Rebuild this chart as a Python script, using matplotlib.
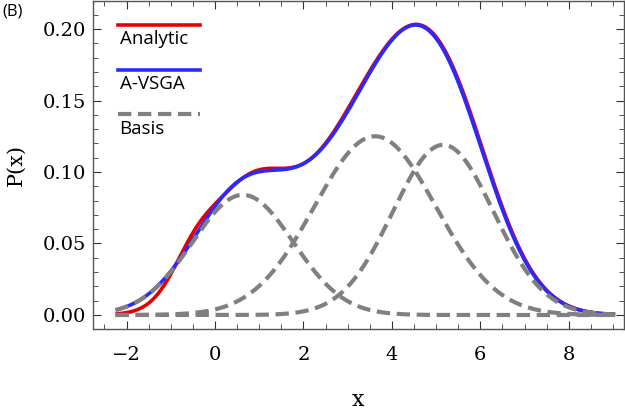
import matplotlib
matplotlib.use("Agg")
import matplotlib.pyplot as plt
import numpy as np
from matplotlib.ticker import MultipleLocator, FormatStrFormatter

# gaussian basis functions (center, peak height, width)
basis_centers = [0.63, 3.62, 5.16]
basis_heights = [0.084, 0.125, 0.119]
basis_widths = [1.14, 1.375, 1.14]

# the analytic curve, approximated by its own gaussian components
analytic_centers = [-0.5, 0.7, 3.5, 5.16]
analytic_heights = [0.02, 0.078, 0.127, 0.123]
analytic_widths = [0.5, 0.95, 1.42, 1.14]

x_start, x_end = -2.25, 9.05

serif = 'DejaVu Serif'
sans = 'Open Sans'

x = np.linspace(x_start, x_end, 600)


def gauss(xx, mu, h, s):
    return h * np.exp(-(xx - mu) ** 2 / (2 * s ** 2))


basis = [gauss(x, m, h, s) for m, h, s in zip(basis_centers, basis_heights, basis_widths)]
vsga = np.sum(basis, axis=0)
analytic = np.sum([gauss(x, m, h, s) for m, h, s in
                   zip(analytic_centers, analytic_heights, analytic_widths)], axis=0)

fig = plt.figure(figsize=(6.25, 4.11), dpi=100)
ax = fig.add_axes([0.1488, 0.1995, 0.8496, 0.7981])

ax.plot(x, analytic, color='#e50000', lw=2.6, solid_capstyle='butt')
ax.plot(x, vsga, color='#2a2aff', lw=2.6, solid_capstyle='butt')
for b in basis:
    ax.plot(x, b, color='#808080', lw=3, dashes=(3.2, 1.6))

ax.set_xlim(-2.76, 9.25)
ax.set_ylim(-0.0098, 0.2196)
ax.xaxis.set_major_locator(MultipleLocator(2))
ax.xaxis.set_minor_locator(MultipleLocator(0.5))
ax.yaxis.set_major_locator(MultipleLocator(0.05))
ax.yaxis.set_minor_locator(MultipleLocator(0.01))
ax.yaxis.set_major_formatter(FormatStrFormatter('%.2f'))
ax.tick_params(which='both', direction='in', top=True, right=True, color='#333333')
ax.tick_params(which='major', length=6, width=0.8, labelsize=14, pad=5)
ax.tick_params(which='minor', length=3.6, width=0.6)
ax.tick_params(axis='x', which='major', pad=12)
for lab in ax.get_xticklabels() + ax.get_yticklabels():
    lab.set_family(serif)
for sp in ax.spines.values():
    sp.set_color('#555555')
    sp.set_linewidth(1.0)

ax.set_xlabel('x', family=serif, fontsize=16, labelpad=18)
ax.set_ylabel('P(x)', family=serif, fontsize=15, labelpad=12)

# legend: line above its text
leg_items = [('Analytic', dict(color='#e50000', lw=2.6)),
             ('A-VSGA', dict(color='#2a2aff', lw=2.6)),
             ('Basis', dict(color='#808080', lw=3, dashes=(3.2, 1.6)))]
for i, (txt, kw) in enumerate(leg_items):
    yl = 0.928 - i * 0.137
    ax.plot([0.048, 0.202], [yl, yl], transform=ax.transAxes, **kw)
    ax.text(0.05, yl - 0.017, txt, transform=ax.transAxes, family=sans,
            fontsize=13.5, fontweight='medium', va='top', ha='left')

fig.text(0.004, 0.972, '(B)', family=sans, fontsize=12, va='center', ha='left')

fig.savefig('out.png', dpi=100)
